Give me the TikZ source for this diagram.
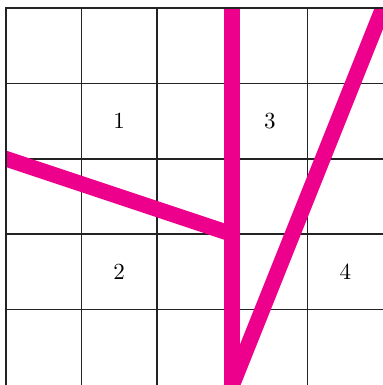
\documentclass[tikz,border=0pt]{standalone}
\definecolor{mag}{RGB}{236,0,140}
\definecolor{gridc}{RGB}{35,35,35}
\tikzset{
  gridline/.style={draw=gridc, line width=0.7pt},
  bar/.style={draw=mag, line width=6.8pt},
  lbl/.style={inner sep=0pt, font=\normalsize}
}
\begin{document}
\begin{tikzpicture}[x=1.15cm,y=1.15cm]
\useasboundingbox (-0.0795,0) rectangle (5,5.106);
\begin{scope}
\clip (0,0) rectangle (5,5);
\foreach \i in {0,1,2,3,4} \draw[gridline] (\i,0) -- (\i,5.2);
\foreach \j in {1,2,3,4,5} \draw[gridline] (-0.2,\j) -- (5.2,\j);
\coordinate (a) at (-0.2,3.0667);
\coordinate (b) at (3,2);
\coordinate (t) at (3,5.2);
\coordinate (bt) at (3,-0.3);
\coordinate (r) at (5.08,5.2);
\coordinate (vb) at (2.88,-0.3);
\draw[bar] (a) -- (b);
\draw[bar] (t) -- (bt);
\draw[bar] (vb) -- (r);
\end{scope}
\draw[gridline] (0,0) -- (0,5) -- (5,5);
\node[lbl] (n1) at (1.5,3.5) {1};
\node[lbl] (n2) at (1.5,1.5) {2};
\node[lbl] (n3) at (3.5,3.5) {3};
\node[lbl] (n4) at (4.5,1.5) {4};
\end{tikzpicture}
\end{document}
